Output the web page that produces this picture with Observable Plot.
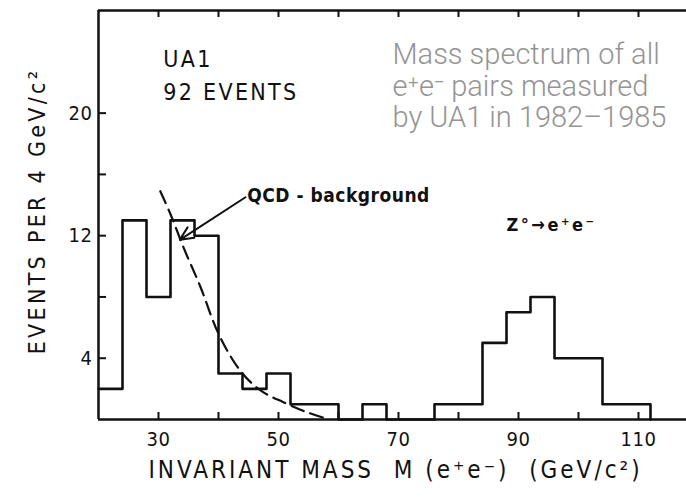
<!DOCTYPE html>
<html><head><meta charset="utf-8">
<script src="https://cdn.jsdelivr.net/npm/d3@7"></script>
<script src="https://cdn.jsdelivr.net/npm/@observablehq/plot@0.6"></script>
<style>
html,body{margin:0;padding:0;background:#fff;overflow:hidden;}
#chart svg{display:block;}
</style></head><body><div id="chart"></div>
<script>
// Histogram: lower bin edges (GeV/c^2, 4 GeV bins) and event counts
const binStart = [20,24,28,32,36,40,44,48,52,56,60,64,68,72,76,80,84,88,92,96,100,104,108];
const binCount = [2,13,8,13,12,3,2,3,1,1,0,1,0,0,1,1,5,7,8,4,4,1,1];
const binEnd = 112;

// QCD background curve
const qcdMass   = [30.3, 32.0, 34.2, 37.0, 40.0, 43.6, 47.0, 50.8, 54.7, 58.1];
const qcdEvents = [14.9, 13.4, 11.2, 8.65, 5.6, 3.2, 1.9, 1.13, 0.48, 0.05];

// Axes
const xDomain = [20, 118];
const yDomain = [0, 26.7];
const xTickMarks = [30,40,50,60,70,80,90,100,110];
const xTickLabels = [30,50,70,90,110];
const yTickMarks = [4,8,12,16,20];
const yTickLabels = [4,12,20];
const xTitle = "INVARIANT MASS\u00a0\u00a0M (e\u207ae\u207b)\u00a0\u00a0(GeV/c\u00b2)";
const yTitle = "EVENTS PER 4 GeV/c\u00b2";

// Annotations (data coordinates)
const headerText = ["UA1", "92 EVENTS"];
const headerX = [30.8, 30.8];
const headerY = [23.48, 21.31];
const captionText = ["Mass spectrum of all", "e\u207ae\u207b pairs measured", "by UA1 in 1982\u20131985"];
const captionX = [69.0, 69.0, 69.0];
const captionY = [23.82, 21.74, 19.71];
const qcdLabel = {text: "QCD - background", x: 44.8, y: 14.58};
const qcdArrow = {x1: 44.5, y1: 14.51, x2: 33.55, y2: 11.73};
const zLabel = {text: "Z\u00b0\u2192e\u207ae\u207b", x: 88.0, y: 12.67};

const bins = binStart.map((x, i) => ({x, n: binCount[i]})).concat([{x: binEnd, n: 0}]);
const qcd = qcdMass.map((m, i) => ({m, e: qcdEvents[i]}));
const header = headerText.map((t, i) => ({t, x: headerX[i], y: headerY[i]}));
const caption = captionText.map((t, i) => ({t, x: captionX[i], y: captionY[i]}));

const ink = "#111";
const svg = Plot.plot({
  width: 686, height: 500,
  marginLeft: 98, marginRight: 0, marginTop: 10, marginBottom: 81,
  x: {domain: xDomain},
  y: {domain: yDomain},
  style: {fontFamily: "'DejaVu Sans Condensed','DejaVu Sans',sans-serif", fontSize: "20px", color: ink, background: "#fff"},
  marks: [
    // inward tick marks
    Plot.ruleX(xTickMarks, {x: d => d, insetTop: 402, stroke: ink, strokeWidth: 2}),
    Plot.ruleX(xTickMarks, {x: d => d, insetBottom: 402, stroke: ink, strokeWidth: 2}),
    Plot.ruleY(yTickMarks, {y: d => d, insetRight: 580, stroke: ink, strokeWidth: 2}),
    Plot.axisX({ticks: xTickLabels, tickSize: 0, tickPadding: 12, label: null}),
    Plot.axisY({ticks: yTickLabels, tickSize: 0, tickPadding: 6, label: null}),
    // frame (left, bottom, top)
    Plot.ruleX([xDomain[0]], {stroke: ink, strokeWidth: 2.5}),
    Plot.ruleY([yDomain[0]], {stroke: ink, strokeWidth: 2.5}),
    Plot.ruleY([yDomain[1]], {stroke: ink, strokeWidth: 2.5}),
    // histogram
    Plot.line(bins, {x: "x", y: "n", curve: "step-after", stroke: ink, strokeWidth: 2.6}),
    // QCD background
    Plot.line(qcd, {x: "m", y: "e", curve: "catmull-rom", stroke: ink, strokeWidth: 2.2, strokeDasharray: "13,7"}),
    Plot.arrow([qcdArrow], {x1: "x1", y1: "y1", x2: "x2", y2: "y2", stroke: ink, strokeWidth: 2, headLength: 11, headAngle: 50}),
    Plot.text([qcdLabel], {x: "x", y: "y", text: "text", textAnchor: "start", fontSize: 19, fontWeight: "bold", fill: ink}),
    Plot.text([zLabel], {x: "x", y: "y", text: "text", textAnchor: "start", fontSize: 18, fontWeight: "bold", fill: ink}),
    Plot.text(header, {x: "x", y: "y", text: "t", textAnchor: "start", fontSize: 23, fill: ink}),
    Plot.text(caption, {x: "x", y: "y", text: "t", textAnchor: "start", fontSize: 29, fontWeight: 300, fontFamily: "Roboto, 'Open Sans', sans-serif", fill: "#949494"}),
    // axis titles
    Plot.text([yTitle], {frameAnchor: "left", textAnchor: "middle", lineAnchor: "middle", rotate: -90, dx: -61, dy: -4, fontSize: 23, fill: ink, text: d => d}),
    Plot.text([xTitle], {frameAnchor: "bottom", textAnchor: "middle", lineAnchor: "middle", dx: 3, dy: 51, fontSize: 24, fill: ink, text: d => d})
  ]
});
document.getElementById("chart").appendChild(svg);

// letter spacing to mimic the stencil-like lettering
const spacing = new Map([
  [yTitle, 3.3], [xTitle, 3], ["UA1", 2.3], ["92 EVENTS", 2.3],
  [qcdLabel.text, 0.5], [zLabel.text, 2.5]
]);
svg.querySelectorAll("text").forEach(t => {
  const s = spacing.get(t.textContent);
  if (s != null) t.style.letterSpacing = s + "px";
  else if (/^\d+$/.test(t.textContent)) t.style.letterSpacing = "0.5px";
});
</script></body></html>
